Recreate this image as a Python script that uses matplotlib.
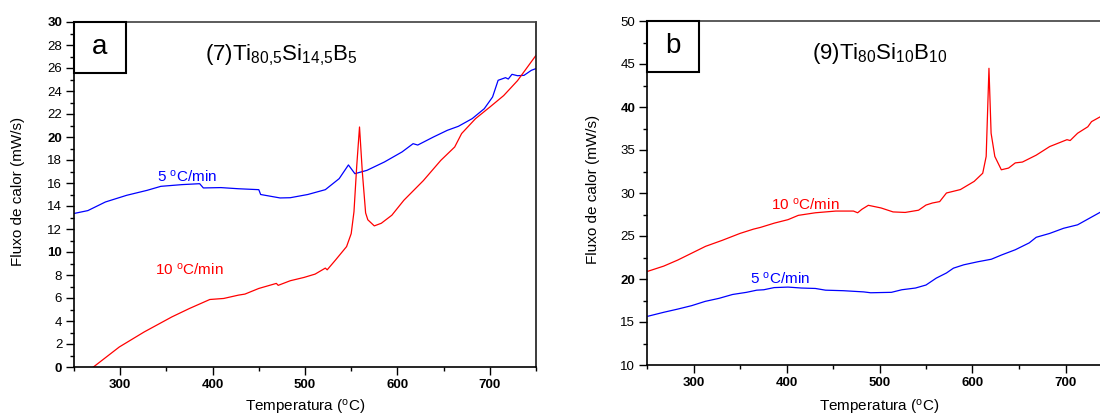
import matplotlib
matplotlib.use("Agg")
import matplotlib.pyplot as plt
from matplotlib.patches import Rectangle
from matplotlib.ticker import MultipleLocator

plt.rcParams['font.family'] = ['Liberation Sans', 'DejaVu Sans']
plt.rcParams['mathtext.fontset'] = 'custom'
plt.rcParams['mathtext.rm'] = 'Liberation Sans'
plt.rcParams['mathtext.it'] = 'Liberation Sans:italic'
plt.rcParams['mathtext.bf'] = 'Liberation Sans:bold'

# ---------------- Data: panel a  (7)Ti80,5Si14,5B5 ----------------
a_blue_T = [250, 265, 284, 307, 329, 344, 367, 386, 390, 409, 428, 450, 452, 473, 484,
            503, 522, 537, 547, 554, 567, 586, 605, 617, 622, 639, 654, 666, 681, 694,
            703, 709, 717, 720, 724, 730, 737, 745, 750]
a_blue_Q = [13.35, 13.6, 14.35, 14.93, 15.36, 15.71, 15.86, 15.94, 15.57, 15.6, 15.5, 15.42, 15.0, 14.7, 14.72,
            15.0, 15.42, 16.38, 17.57, 16.81, 17.1, 17.83, 18.7, 19.42, 19.3, 20.0, 20.58, 20.93, 21.6, 22.46,
            23.48, 24.93, 25.16, 25.04, 25.45, 25.33, 25.36, 25.8, 25.95]

a_red_T = [271, 299, 326, 356, 375, 397, 412, 428, 435, 450, 469, 471, 484, 499, 511, 522, 524,
           533, 545, 550, 553, 556, 559, 562, 565.6, 568, 575, 582.6, 594, 607, 628, 647, 662,
           669.5, 684.6, 700, 715, 730, 750]
a_red_Q = [0.0, 1.74, 3.05, 4.36, 5.09, 5.87, 5.96, 6.25, 6.34, 6.83, 7.27, 7.1, 7.5, 7.79, 8.08, 8.6, 8.45,
           9.3, 10.47, 11.6, 13.5, 17.5, 20.87, 17.0, 13.4, 12.8, 12.27, 12.5, 13.2, 14.5, 16.2, 17.97, 19.13,
           20.3, 21.6, 22.6, 23.6, 24.9, 27.1]

# ---------------- Data: panel b  (9)Ti80Si10B10 ----------------
b_red_T = [251, 268, 283, 298, 313, 331, 350, 364.5, 372, 387, 401.6, 412.7, 431, 453, 472, 476.5,
           481, 488, 501.7, 514.6, 527.6, 542, 550, 557, 564.7, 572, 587, 601.8, 611, 614.7, 617.7,
           620, 624, 631, 638.8, 646, 653.7, 668.5, 683, 701.6, 705, 713, 724, 728, 738, 750]
b_red_Q = [20.9, 21.5, 22.2, 23.0, 23.8, 24.5, 25.3, 25.8, 26.0, 26.5, 26.9, 27.4, 27.7, 27.9, 27.9, 27.7,
           28.1, 28.57, 28.26, 27.8, 27.74, 28.0, 28.6, 28.84, 29.0, 30.0, 30.4, 31.35, 32.3, 34.25, 44.5,
           36.95, 34.25, 32.7, 32.9, 33.5, 33.6, 34.4, 35.4, 36.2, 36.1, 36.95, 37.7, 38.3, 38.9, 39.4]

b_blue_T = [251, 268, 283, 298, 312.6, 327.4, 342, 357, 368, 375.6, 386.7, 401.6, 416, 431, 442,
            461, 483, 490.5, 512.8, 524, 538.7, 550, 561, 572, 579.5, 590.6, 605.5, 620.3, 631.4,
            646, 661, 668.5, 683, 698, 713, 728, 738, 750]
b_blue_Q = [15.67, 16.13, 16.5, 16.9, 17.4, 17.75, 18.2, 18.45, 18.7, 18.75, 19.0, 19.06, 18.95, 18.9, 18.7,
            18.64, 18.5, 18.4, 18.45, 18.75, 18.95, 19.3, 20.1, 20.7, 21.26, 21.65, 22.0, 22.3, 22.8,
            23.4, 24.2, 24.85, 25.3, 25.9, 26.3, 27.2, 27.8, 28.2]

a_yticks = [0, 2, 4, 6, 8, 10, 12, 14, 16, 18, 20, 22, 24, 26, 28, 30]
a_ybold = [0, 10, 20, 30]
b_yticks = [10, 15, 20, 25, 30, 35, 40, 45, 50]
b_ybold = [20, 40]
xticks = [300, 400, 500, 600, 700]

fig = plt.figure(figsize=(11, 4.18), dpi=100)
axa = fig.add_axes([74/1100, (418-367)/418, 462/1100, 345/418])
axb = fig.add_axes([647/1100, (418-365)/418, 465/1100, 344/418])

RED = '#ff0000'
BLUE = '#0000ff'

def style(ax, ymin, ymax, yticks, ybold, ymin_step, letter, title, tx, lab_x, lab_y):
    ax.set_xlim(250, 750)
    ax.set_ylim(ymin, ymax)
    ax.set_xticks(xticks)
    ax.xaxis.set_minor_locator(MultipleLocator(50))
    ax.set_yticks(yticks)
    ax.yaxis.set_minor_locator(MultipleLocator(ymin_step))
    ax.tick_params(which='major', direction='out', length=5.5, width=1.0, labelsize=9.5, pad=3,
                   top=False, right=False)
    ax.tick_params(which='minor', direction='out', length=2.8, width=1.0, top=False, right=False)
    ax.set_xticklabels([str(t) for t in xticks], fontweight='bold')
    ax.set_yticklabels([str(t) for t in yticks])
    for lab, t in zip(ax.get_yticklabels(), yticks):
        if t in ybold:
            lab.set_fontweight('bold')
    for s in ax.spines.values():
        s.set_linewidth(1.2)
    ax.spines['top'].set_color('0.25')
    ax.spines['right'].set_color('0.1')
    ax.add_patch(Rectangle((0, 1 - 51/345), 52/462, 51/345, transform=ax.transAxes,
                           fill=False, edgecolor='black', linewidth=1.5, clip_on=False, zorder=5))
    ax.text(26/462, 1 - 25.5/345, letter, transform=ax.transAxes, ha='center', va='center',
            fontsize=20)
    ax.text(tx, 0.89, title, transform=ax.transAxes, ha='center', va='baseline', fontsize=16)
    ax.text(0.5, lab_y, r'Temperatura ($^{\mathrm{o}}$C)', transform=ax.transAxes,
            ha='center', va='center', fontsize=11)
    ax.text(lab_x, 0.51, 'Fluxo de calor (mW/s)', transform=ax.transAxes, rotation=90,
            ha='center', va='center', fontsize=11)

axa.plot(a_blue_T, a_blue_Q, color=BLUE, lw=0.9)
axa.plot(a_red_T, a_red_Q, color=RED, lw=0.9)
style(axa, 0, 30, a_yticks, a_ybold, 1, 'a', r'(7)Ti$_{80{,}5}$Si$_{14{,}5}$B$_{5}$', 0.45,
      -0.121, -0.118)
axa.text(372, 16.55, r'5 $^{\mathrm{o}}$C/min', color=BLUE, fontsize=11, ha='center', va='center')
axa.text(375, 8.45, r'10 $^{\mathrm{o}}$C/min', color=RED, fontsize=11, ha='center', va='center')

axb.plot(b_red_T, b_red_Q, color=RED, lw=0.9)
axb.plot(b_blue_T, b_blue_Q, color=BLUE, lw=0.9)
style(axb, 10, 50, b_yticks, b_ybold, 2.5, 'b', r'(9)Ti$_{80}$Si$_{10}$B$_{10}$', 0.50,
      -0.116, -0.124)
axb.text(420, 28.7, r'10 $^{\mathrm{o}}$C/min', color=RED, fontsize=11, ha='center', va='center')
axb.text(393, 20.0, r'5 $^{\mathrm{o}}$C/min', color=BLUE, fontsize=11, ha='center', va='center')

fig.savefig('out.png', dpi=100)
